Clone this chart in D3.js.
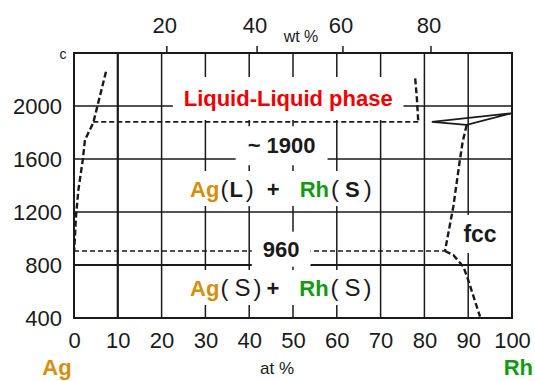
<!DOCTYPE html>
<html>
<head>
<meta charset="utf-8">
<script src="https://cdn.jsdelivr.net/npm/d3@7/dist/d3.min.js"></script>
<style>
  html, body { margin: 0; padding: 0; background: #fff; }
  svg { display: block; font-family: "Liberation Sans", Arial, sans-serif; }
</style>
</head>
<body>
<svg id="chart" width="535" height="381"></svg>
<script>
// ---- data ----
const atTicks = [0, 10, 20, 30, 40, 50, 60, 70, 80, 90, 100];
const gridAt = [10, 20, 30, 40, 50, 60, 70, 80, 90];
const tempTicks = [400, 800, 1200, 1600, 2000];
const gridTemp = [800, 1200, 1600, 2000];
const wtTicks = [20, 40, 60, 80];
const wtAtPos = [21.2, 41.8, 61.4, 81.5];          // at% position of wt% ticks
const agLiquidus = [[7.3, 2259], [4.4, 1874], [2.5, 1743], [2.0, 1592], [1.0, 1366], [0.45, 1165], [0.05, 906]];
const rhLiquidus = [[77.9, 2209], [78.3, 2050], [78.6, 1880]];
const monotectic = [[4.4, 1880], [78.6, 1880]];
const peritectic = [[81.7, 1880], [99.9, 1945], [89.65, 1857]];
const fccSolidus = [[89.65, 1857], [88.74, 1731], [88.1, 1592], [86.6, 1240], [84.7, 906]];
const rhSolvus = [[84.7, 906], [86.6, 875], [88.9, 787], [90.0, 687], [92.7, 410]];
const eutectic = [[0, 906], [84.7, 906]];

const svg = d3.select("#chart");
const x = d3.scaleLinear().domain([0, 100]).range([74, 512]);
const y = d3.scaleLinear().domain([400, 2400]).range([318, 53]);
const line = d3.line().x(d => x(d[0])).y(d => y(d[1]));
const FONT = "Liberation Sans, Arial, sans-serif";

const ink = "#1a1a1a";
const gGrid = svg.append("g");
gGrid.selectAll("line.v").data(gridAt).join("line")
  .attr("x1", d => x(d)).attr("x2", d => x(d))
  .attr("y1", y(2400)).attr("y2", y(400))
  .attr("stroke", ink).attr("stroke-width", d => d === 10 ? 2.2 : 1.5);
gGrid.selectAll("line.h").data(gridTemp).join("line")
  .attr("x1", x(0)).attr("x2", x(100))
  .attr("y1", d => y(d)).attr("y2", d => y(d))
  .attr("stroke", ink).attr("stroke-width", d => d === 800 ? 2.2 : 1.6);

// phase lines
const gLines = svg.append("g").attr("fill", "none").attr("stroke", ink);
gLines.append("path").attr("d", line(monotectic)).attr("stroke-width", 1.6).attr("stroke-dasharray", "5,3");
gLines.append("path").attr("d", line(eutectic)).attr("stroke-width", 1.6).attr("stroke-dasharray", "5,3");
[agLiquidus, rhLiquidus, fccSolidus, rhSolvus].forEach(c =>
  gLines.append("path").attr("d", line(c)).attr("stroke-width", 2.4).attr("stroke-dasharray", "6,3"));
gLines.append("path").attr("d", line(peritectic) + "Z").attr("stroke-width", 1.8);

// frame
svg.append("rect").attr("x", x(0)).attr("y", y(2400))
  .attr("width", x(100) - x(0)).attr("height", y(400) - y(2400))
  .attr("fill", "none").attr("stroke", ink).attr("stroke-width", 2);

// axes
const yAxis = d3.axisLeft(y).tickValues(tempTicks).tickFormat(d3.format("d")).tickSize(0).tickPadding(12);
svg.append("g").attr("transform", `translate(${x(0)},0)`).call(yAxis)
  .call(g => g.select(".domain").remove())
  .call(g => g.selectAll("text").attr("font-size", 22).attr("fill", ink).attr("font-family", FONT));

const xAxis = d3.axisBottom(x).tickValues(atTicks).tickFormat(d3.format("d")).tickSize(0).tickPadding(14);
svg.append("g").attr("transform", `translate(0,${y(400)})`).call(xAxis)
  .call(g => g.select(".domain").remove())
  .call(g => g.selectAll("text").attr("font-size", 22).attr("fill", ink).attr("font-family", FONT));

// top wt% axis
const xTop = d3.scaleOrdinal().domain(wtTicks).range(wtAtPos.map(v => x(v)));
const gTop = svg.append("g");
gTop.selectAll("line").data(wtTicks).join("line")
  .attr("x1", d => xTop(d)).attr("x2", d => xTop(d))
  .attr("y1", y(2400) - 7).attr("y2", y(2400))
  .attr("stroke", ink).attr("stroke-width", 1.5);
gTop.selectAll("text").data(wtTicks).join("text")
  .attr("x", d => xTop(d) - 2).attr("y", 33)
  .attr("text-anchor", "middle").attr("font-size", 22).attr("fill", ink)
  .text(d => d);
svg.append("text").attr("x", 301).attr("y", 42).attr("text-anchor", "middle")
  .attr("font-size", 16).attr("fill", ink).text("wt %");
svg.append("text").attr("x", 63).attr("y", 59).attr("text-anchor", "middle")
  .attr("font-size", 14).attr("fill", ink).text("c");
svg.append("text").attr("x", 277).attr("y", 374).attr("text-anchor", "middle")
  .attr("font-size", 17).attr("fill", ink).text("at %");

const orange = "#D4900C", green = "#129A12", red = "#EE0000";
svg.append("text").attr("x", 57).attr("y", 375).attr("text-anchor", "middle")
  .attr("font-size", 22).attr("font-weight", "bold").attr("fill", orange).text("Ag");
svg.append("text").attr("x", 533).attr("y", 375).attr("text-anchor", "end")
  .attr("font-size", 22).attr("font-weight", "bold").attr("fill", green).text("Rh");

// labels with white background
const gLab = svg.append("g");
function label(xv, yv, anchor, parts, pad, rx) {
  const g = gLab.append("g");
  const t = g.append("text").attr("x", x(xv)).attr("y", y(yv)).attr("text-anchor", anchor);
  parts.forEach(p => {
    t.append("tspan").text(p.t)
      .attr("dx", p.dx || 0)
      .attr("fill", p.c || ink)
      .attr("font-size", p.s || 22)
      .attr("font-weight", p.w || "bold")
      .attr("font-family", FONT);
  });
  const b = t.node().getBBox();
  g.insert("rect", "text")
    .attr("x", b.x - pad[0]).attr("y", b.y - pad[1])
    .attr("width", b.width + 2 * pad[0]).attr("height", b.height + 2 * pad[1])
    .attr("rx", rx || 0).attr("fill", "#fff");
}
label(48.9, 2000, "middle", [{t: "Liquid-Liquid phase", c: red}], [11, 9], 16);
label(47.4, 1643, "middle", [{t: "~ 1900"}], [12, 7], 4);
label(26.5, 1313, "start", [
  {t: "Ag", c: orange}, {t: "(", w: "normal", s: 24, dx: 1}, {t: "L", dx: 1}, {t: ")", w: "normal", s: 24, dx: 3},
  {t: "+", dx: 13}, {t: "Rh", c: green, dx: 20}, {t: "(", w: "normal", s: 24, dx: 2},
  {t: "S", dx: 6}, {t: ")", w: "normal", s: 24, dx: 4}
], [4, 4], 0);
label(47.3, 863, "middle", [{t: "960"}], [11, 5], 0);
label(26.5, 566, "start", [
  {t: "Ag", c: orange}, {t: "(", w: "normal", s: 24, dx: 1}, {t: "S", w: "normal", s: 24, dx: 6}, {t: ")", w: "normal", s: 24, dx: 3},
  {t: "+", dx: 5}, {t: "Rh", c: green, dx: 20}, {t: "(", w: "normal", s: 24, dx: 2},
  {t: "S", w: "normal", s: 24, dx: 6}, {t: ")", w: "normal", s: 24, dx: 3}
], [4, 4], 0);
label(92.7, 974, "middle", [{t: "fcc", s: 23}], [6, 6], 0);
</script>
</body>
</html>
